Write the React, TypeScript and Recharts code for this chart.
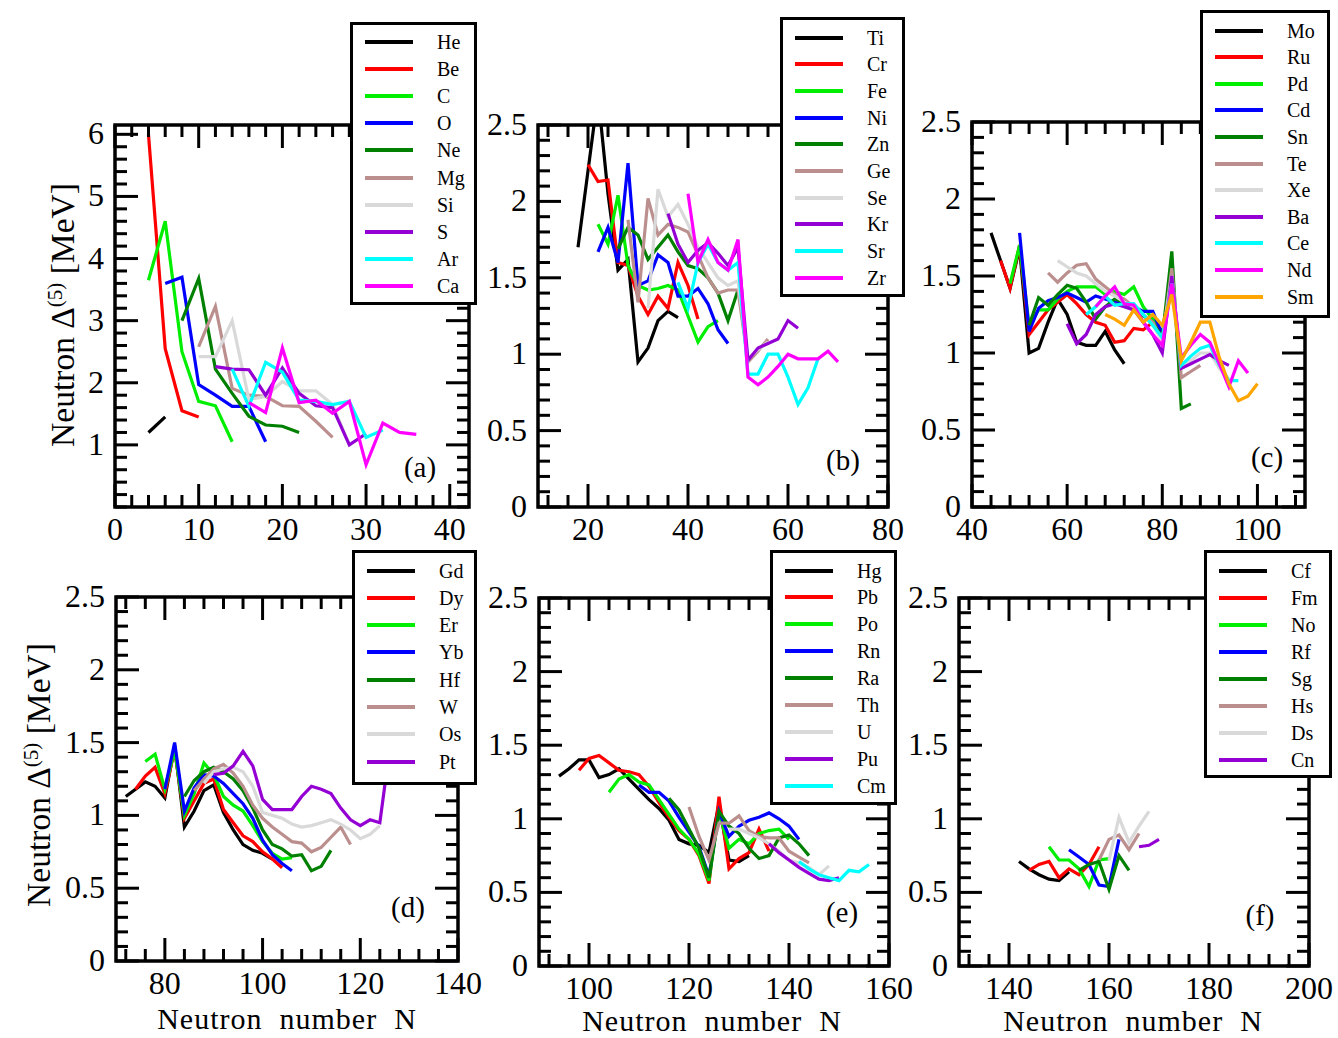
import React from 'react';
import { LineChart, Line, XAxis, YAxis, ReferenceArea } from 'recharts';

type Pt = [number, number];

const FONT = '"Liberation Serif", "Times New Roman", serif';

// colours used by the legend order of every panel
const C_BLACK = '#000000';
const C_RED = '#ff0000';
const C_LIME = '#00ee00';
const C_BLUE = '#0000ff';
const C_DGREEN = '#008000';
const C_ROSY = '#bc8f8f';
const C_GRAY = '#d9d9d9';
const C_PURPLE = '#9400d3';
const C_CYAN = '#00ffff';
const C_MAGENTA = '#ff00ff';
const C_ORANGE = '#ffa500';

// ---- panel (a) ----
const aHe: Pt[] = [[4, 1.2], [6, 1.45]];
const aBe: Pt[] = [[4, 6.0], [6, 2.55], [8, 1.55], [10, 1.45]];
const aC: Pt[] = [[4, 3.65], [6, 4.6], [8, 2.5], [10, 1.7], [12, 1.63], [14, 1.05]];
const aO: Pt[] = [[6, 3.6], [8, 3.7], [10, 1.97], [12, 1.8], [14, 1.62], [16, 1.62], [18, 1.05]];
const aNe: Pt[] = [[8, 3.0], [10, 3.68], [12, 2.22], [14, 1.83], [16, 1.46], [18, 1.32], [20, 1.3], [22, 1.2]];
const aMg: Pt[] = [[10, 2.58], [12, 3.23], [14, 1.91], [16, 1.8], [18, 1.78], [20, 1.63], [22, 1.62], [24, 1.38], [26, 1.12]];
const aSi: Pt[] = [[10, 2.42], [12, 2.42], [14, 3.0], [16, 1.73], [18, 1.78], [20, 2.02], [22, 1.87], [24, 1.87], [26, 1.65], [28, 1.0]];
const aS: Pt[] = [[12, 2.26], [14, 2.22], [16, 2.21], [18, 1.8], [20, 2.24], [22, 1.83], [24, 1.63], [26, 1.6], [28, 1.0], [30, 1.18]];
const aAr: Pt[] = [[14, 2.22], [16, 1.62], [18, 2.33], [20, 2.17], [22, 1.72], [24, 1.7], [26, 1.65], [28, 1.7], [30, 1.12], [32, 1.24]];
const aCa: Pt[] = [[16, 1.68], [18, 1.52], [20, 2.56], [22, 1.68], [24, 1.72], [26, 1.51], [28, 1.7], [30, 0.68], [32, 1.35], [34, 1.2], [36, 1.17]];

// ---- panel (b) ----
const bTi: Pt[] = [[18, 1.7], [20, 2.2], [22, 2.7], [24, 2.05], [26, 1.55], [28, 1.62], [30, 0.95], [32, 1.04], [34, 1.22], [36, 1.28], [38, 1.24]];
const bCr: Pt[] = [[20, 2.24], [22, 2.13], [24, 2.14], [26, 1.6], [28, 1.58], [30, 1.38], [32, 1.26], [34, 1.38], [36, 1.3], [38, 1.6], [40, 1.45], [42, 1.23]];
const bFe: Pt[] = [[22, 1.85], [24, 1.72], [26, 2.04], [28, 1.58], [30, 1.45], [32, 1.42], [34, 1.43], [36, 1.45], [38, 1.42], [40, 1.25], [42, 1.08], [44, 1.18], [46, 1.22]];
const bNi: Pt[] = [[22, 1.67], [24, 1.83], [26, 1.6], [28, 2.25], [30, 1.45], [32, 1.48], [34, 1.65], [36, 1.6], [38, 1.38], [40, 1.38], [42, 1.43], [44, 1.33], [46, 1.16], [48, 1.07]];
const bZn: Pt[] = [[26, 1.69], [28, 1.83], [30, 1.78], [32, 1.62], [34, 1.7], [36, 1.78], [38, 1.67], [40, 1.58], [42, 1.56], [44, 1.5], [46, 1.4], [48, 1.22], [50, 1.42]];
const bGe: Pt[] = [[28, 1.88], [30, 1.34], [32, 2.02], [34, 1.78], [36, 1.85], [38, 1.83], [40, 1.8], [42, 1.65], [44, 1.5], [46, 1.4], [48, 1.42], [50, 1.42], [52, 0.95], [54, 1.02], [56, 1.1]];
const bSe: Pt[] = [[32, 1.3], [34, 2.08], [36, 1.9], [38, 1.98], [40, 1.85], [42, 1.7], [44, 1.6], [46, 1.5], [48, 1.45], [50, 1.48], [52, 0.97], [54, 1.03], [56, 1.08]];
const bKr: Pt[] = [[36, 1.92], [38, 1.72], [40, 1.6], [42, 1.68], [44, 1.73], [46, 1.66], [48, 1.58], [50, 1.7], [52, 0.96], [54, 1.04], [56, 1.07], [58, 1.1], [60, 1.22], [62, 1.17]];
const bSr: Pt[] = [[38, 1.47], [40, 1.3], [42, 1.6], [44, 1.72], [46, 1.6], [48, 1.55], [50, 1.6], [52, 0.87], [54, 0.87], [56, 1.0], [58, 1.0], [60, 0.85], [62, 0.67], [64, 0.78], [66, 0.97]];
const bZr: Pt[] = [[40, 2.05], [42, 1.6], [44, 1.75], [46, 1.6], [48, 1.55], [50, 1.75], [52, 0.85], [54, 0.8], [56, 0.85], [58, 0.92], [60, 1.0], [62, 0.97], [64, 0.97], [66, 0.97], [68, 1.02], [70, 0.95]];

// ---- panel (c) ----
const cMo: Pt[] = [[44, 1.78], [46, 1.6], [48, 1.42], [50, 1.68], [52, 1.0], [54, 1.03], [56, 1.2], [58, 1.35], [60, 1.25], [62, 1.07], [64, 1.05], [66, 1.05], [68, 1.14], [70, 1.02], [72, 0.93]];
const cRu: Pt[] = [[46, 1.6], [48, 1.42], [50, 1.7], [52, 1.12], [54, 1.2], [56, 1.28], [58, 1.33], [60, 1.38], [62, 1.32], [64, 1.25], [66, 1.2], [68, 1.18], [70, 1.07], [72, 1.08], [74, 1.16], [76, 1.15], [78, 1.2]];
const cPd: Pt[] = [[48, 1.45], [50, 1.7], [52, 1.18], [54, 1.28], [56, 1.28], [58, 1.35], [60, 1.4], [62, 1.43], [64, 1.43], [66, 1.43], [68, 1.38], [70, 1.4], [72, 1.38], [74, 1.43], [76, 1.3], [78, 1.22], [80, 1.1]];
const cCd: Pt[] = [[50, 1.78], [52, 1.14], [54, 1.29], [56, 1.34], [58, 1.36], [60, 1.39], [62, 1.36], [64, 1.33], [66, 1.37], [68, 1.35], [70, 1.33], [72, 1.32], [74, 1.3], [76, 1.27], [78, 1.27], [80, 1.12], [82, 1.5]];
const cSn: Pt[] = [[52, 1.18], [54, 1.36], [56, 1.31], [58, 1.38], [60, 1.44], [62, 1.42], [64, 1.33], [66, 1.22], [68, 1.3], [70, 1.35], [72, 1.33], [74, 1.3], [76, 1.24], [78, 1.2], [80, 1.1], [82, 1.66], [84, 0.64], [86, 0.67]];
const cTe: Pt[] = [[56, 1.52], [58, 1.46], [60, 1.52], [62, 1.57], [64, 1.58], [66, 1.48], [68, 1.43], [70, 1.38], [72, 1.35], [74, 1.3], [76, 1.25], [78, 1.2], [80, 1.08], [82, 1.55], [84, 0.84], [86, 0.88], [88, 0.92]];
const cXe: Pt[] = [[58, 1.6], [60, 1.56], [62, 1.52], [64, 1.5], [66, 1.45], [68, 1.4], [70, 1.37], [72, 1.33], [74, 1.3], [76, 1.25], [78, 1.18], [80, 1.08], [82, 1.5], [84, 0.92], [86, 0.95], [88, 1.0], [90, 1.0], [92, 0.9], [94, 0.83]];
const cBa: Pt[] = [[60, 1.19], [62, 1.06], [64, 1.12], [66, 1.25], [68, 1.3], [70, 1.32], [72, 1.3], [74, 1.28], [76, 1.2], [78, 1.12], [80, 1.0], [82, 1.5], [84, 0.9], [86, 0.93], [88, 0.96], [90, 0.99], [92, 0.95], [94, 0.92]];
const cCe: Pt[] = [[64, 1.25], [66, 1.3], [68, 1.37], [70, 1.31], [72, 1.32], [74, 1.32], [76, 1.25], [78, 1.18], [80, 1.1], [82, 1.45], [84, 0.92], [86, 0.98], [88, 1.03], [90, 1.05], [92, 0.92], [94, 0.82], [96, 0.82]];
const cNd: Pt[] = [[66, 1.3], [68, 1.37], [70, 1.43], [72, 1.32], [74, 1.31], [76, 1.2], [78, 1.12], [80, 1.05], [82, 1.45], [84, 0.97], [86, 1.05], [88, 1.12], [90, 1.07], [92, 0.93], [94, 0.78], [96, 0.95], [98, 0.87]];
const cSm: Pt[] = [[68, 1.25], [70, 1.22], [72, 1.18], [74, 1.28], [76, 1.2], [78, 1.25], [80, 1.18], [82, 1.38], [84, 0.95], [86, 1.07], [88, 1.2], [90, 1.2], [92, 0.97], [94, 0.8], [96, 0.69], [98, 0.72], [100, 0.8]];

// ---- panel (d) ----
const dGd: Pt[] = [[72, 1.13], [74, 1.18], [76, 1.23], [78, 1.2], [80, 1.12], [82, 1.48], [84, 0.92], [86, 1.03], [88, 1.17], [90, 1.21], [92, 1.02], [94, 0.9], [96, 0.8], [98, 0.76], [100, 0.74], [102, 0.7]];
const dDy: Pt[] = [[74, 1.18], [76, 1.27], [78, 1.33], [80, 1.15], [82, 1.45], [84, 0.98], [86, 1.1], [88, 1.22], [90, 1.25], [92, 1.04], [94, 0.95], [96, 0.86], [98, 0.82], [100, 0.75], [102, 0.7], [104, 0.64]];
const dEr: Pt[] = [[76, 1.37], [78, 1.42], [80, 1.18], [82, 1.45], [84, 1.0], [86, 1.15], [88, 1.36], [90, 1.28], [92, 1.13], [94, 1.07], [96, 1.03], [98, 0.93], [100, 0.82], [102, 0.74], [104, 0.7], [106, 0.71]];
const dYb: Pt[] = [[80, 1.18], [82, 1.5], [84, 1.03], [86, 1.19], [88, 1.28], [90, 1.27], [92, 1.22], [94, 1.15], [96, 1.08], [98, 0.98], [100, 0.83], [102, 0.73], [104, 0.67], [106, 0.62]];
const dHf: Pt[] = [[84, 1.13], [86, 1.24], [88, 1.3], [90, 1.33], [92, 1.3], [94, 1.25], [96, 1.17], [98, 1.05], [100, 0.9], [102, 0.8], [104, 0.77], [106, 0.72], [108, 0.73], [110, 0.62], [112, 0.65], [114, 0.76]];
const dW: Pt[] = [[86, 1.17], [88, 1.25], [90, 1.32], [92, 1.35], [94, 1.29], [96, 1.2], [98, 1.07], [100, 0.98], [102, 0.92], [104, 0.87], [106, 0.82], [108, 0.81], [110, 0.75], [112, 0.78], [114, 0.85], [116, 0.92], [118, 0.8]];
const dOs: Pt[] = [[88, 1.22], [90, 1.3], [92, 1.32], [94, 1.33], [96, 1.3], [98, 1.2], [100, 1.02], [102, 1.0], [104, 0.98], [106, 0.94], [108, 0.92], [110, 0.93], [112, 0.95], [114, 0.97], [116, 0.94], [118, 0.9], [120, 0.84], [122, 0.87], [124, 0.93]];
const dPt: Pt[] = [[90, 1.28], [92, 1.29], [94, 1.34], [96, 1.44], [98, 1.34], [100, 1.11], [102, 1.04], [104, 1.04], [106, 1.04], [108, 1.13], [110, 1.2], [112, 1.18], [114, 1.15], [116, 1.05], [118, 0.97], [120, 0.93], [122, 0.97], [124, 0.95], [126, 1.45]];

// ---- panel (e) ----
const eHg: Pt[] = [[94, 1.29], [96, 1.34], [98, 1.4], [100, 1.4], [102, 1.28], [104, 1.3], [106, 1.34], [108, 1.27], [110, 1.2], [112, 1.13], [114, 1.07], [116, 0.99], [118, 0.86], [120, 0.83], [122, 0.82], [124, 0.77], [126, 1.1], [128, 0.72], [130, 0.71], [132, 0.75]];
const ePb: Pt[] = [[98, 1.33], [100, 1.41], [102, 1.43], [104, 1.38], [106, 1.33], [108, 1.32], [110, 1.3], [112, 1.22], [114, 1.11], [116, 1.01], [118, 0.92], [120, 0.86], [122, 0.75], [124, 0.56], [126, 1.15], [128, 0.66], [130, 0.73], [132, 0.77], [134, 0.93], [136, 0.78]];
const ePo: Pt[] = [[104, 1.18], [106, 1.27], [108, 1.3], [110, 1.25], [112, 1.23], [114, 1.13], [116, 1.03], [118, 0.93], [120, 0.86], [122, 0.76], [124, 0.58], [126, 1.05], [128, 0.8], [130, 0.86], [132, 0.83], [134, 0.9], [136, 0.92], [138, 0.93], [140, 0.86]];
const eRn: Pt[] = [[110, 1.23], [112, 1.18], [114, 1.18], [116, 1.12], [118, 1.01], [120, 0.91], [122, 0.81], [124, 0.61], [126, 1.05], [128, 0.88], [130, 0.95], [132, 0.99], [134, 1.01], [136, 1.04], [138, 1.0], [140, 0.95], [142, 0.86]];
const eRa: Pt[] = [[116, 1.14], [118, 1.06], [120, 0.93], [122, 0.8], [124, 0.6], [126, 1.05], [128, 0.95], [130, 0.9], [132, 0.8], [134, 0.73], [136, 0.75], [138, 0.87], [140, 0.89], [142, 0.83], [144, 0.75]];
const eTh: Pt[] = [[120, 1.08], [122, 0.88], [124, 0.72], [126, 0.97], [128, 0.97], [130, 1.02], [132, 0.92], [134, 0.88], [136, 0.87], [138, 0.87], [140, 0.78], [142, 0.74], [144, 0.7]];
const eU: Pt[] = [[128, 0.93], [130, 0.93], [132, 0.9], [134, 0.87], [136, 0.83], [138, 0.78], [140, 0.72], [142, 0.7], [144, 0.67], [146, 0.62], [148, 0.68]];
const ePu: Pt[] = [[136, 0.83], [138, 0.77], [140, 0.72], [142, 0.67], [144, 0.63], [146, 0.59], [148, 0.58], [150, 0.6]];
const eCm: Pt[] = [[142, 0.71], [144, 0.66], [146, 0.62], [148, 0.6], [150, 0.58], [152, 0.65], [154, 0.64], [156, 0.69]];

// ---- panel (f) ----
const fCf: Pt[] = [[142, 0.71], [144, 0.66], [146, 0.62], [148, 0.59], [150, 0.58], [152, 0.64]];
const fFm: Pt[] = [[144, 0.65], [146, 0.69], [148, 0.71], [150, 0.6], [152, 0.66], [154, 0.62], [156, 0.69], [158, 0.81]];
const fNo: Pt[] = [[148, 0.81], [150, 0.72], [152, 0.72], [154, 0.66], [156, 0.54], [158, 0.72], [160, 0.73]];
const fRf: Pt[] = [[152, 0.79], [154, 0.74], [156, 0.69], [158, 0.55], [160, 0.54], [162, 0.86]];
const fSg: Pt[] = [[154, 0.65], [156, 0.69], [158, 0.71], [160, 0.52], [162, 0.75], [164, 0.65]];
const fHs: Pt[] = [[158, 0.72], [160, 0.86], [162, 0.89], [164, 0.79], [166, 0.9]];
const fDs: Pt[] = [[160, 0.72], [162, 1.01], [164, 0.84], [166, 0.95], [168, 1.05]];
const fCn: Pt[] = [[166, 0.81], [168, 0.82], [170, 0.86]];

// tick labels
const aXMajor = [0, 10, 20, 30, 40];
const aYMajor = [1, 2, 3, 4, 5, 6];
const bXMajor = [20, 40, 60, 80];
const cXMajor = [40, 60, 80, 100];
const dXMajor = [80, 100, 120, 140];
const eXMajor = [100, 120, 140, 160];
const fXMajor = [140, 160, 180, 200];
const yMajor25 = [0, 0.5, 1, 1.5, 2, 2.5];

type Series = { name: string; color: string; data: Pt[] };
type Legend = { x: number; y: number; w: number; h: number; row0: number; step: number };
type PanelCfg = {
  fx: number; fy: number; fw: number; fh: number;
  xDomain: [number, number]; yDomain: [number, number];
  xMajor: number[]; xMinorStart: number; xMinorStep: number;
  yMajor: number[]; yMinorStep: number; yLabelMajor: number[];
  series: Series[]; legend: Legend; letter: string; letterX: number; letterY: number;
};

const S = (name: string, color: string, data: Pt[]): Series => ({ name, color, data });

const panels: PanelCfg[] = [
  {
    fx: 115, fy: 125, fw: 354, fh: 382, xDomain: [0, 42.3], yDomain: [0, 6.15],
    xMajor: aXMajor, xMinorStart: 0, xMinorStep: 2, yMajor: aYMajor, yMinorStep: 0.2, yLabelMajor: aYMajor,
    series: [S('He', C_BLACK, aHe), S('Be', C_RED, aBe), S('C', C_LIME, aC), S('O', C_BLUE, aO), S('Ne', C_DGREEN, aNe),
      S('Mg', C_ROSY, aMg), S('Si', C_GRAY, aSi), S('S', C_PURPLE, aS), S('Ar', C_CYAN, aAr), S('Ca', C_MAGENTA, aCa)],
    legend: { x: 350, y: 22, w: 127, h: 283, row0: 42, step: 27.2 }, letter: '(a)', letterX: 420, letterY: 467,
  },
  {
    fx: 538, fy: 125, fw: 350, fh: 382, xDomain: [10, 80], yDomain: [0, 2.5],
    xMajor: bXMajor, xMinorStart: 12, xMinorStep: 4, yMajor: yMajor25, yMinorStep: 0.1, yLabelMajor: yMajor25,
    series: [S('Ti', C_BLACK, bTi), S('Cr', C_RED, bCr), S('Fe', C_LIME, bFe), S('Ni', C_BLUE, bNi), S('Zn', C_DGREEN, bZn),
      S('Ge', C_ROSY, bGe), S('Se', C_GRAY, bSe), S('Kr', C_PURPLE, bKr), S('Sr', C_CYAN, bSr), S('Zr', C_MAGENTA, bZr)],
    legend: { x: 780, y: 17, w: 125, h: 280, row0: 38, step: 26.7 }, letter: '(b)', letterX: 843, letterY: 460,
  },
  {
    fx: 972, fy: 122, fw: 333, fh: 385, xDomain: [40, 110], yDomain: [0, 2.5],
    xMajor: cXMajor, xMinorStart: 40, xMinorStep: 4, yMajor: yMajor25, yMinorStep: 0.1, yLabelMajor: yMajor25,
    series: [S('Mo', C_BLACK, cMo), S('Ru', C_RED, cRu), S('Pd', C_LIME, cPd), S('Cd', C_BLUE, cCd), S('Sn', C_DGREEN, cSn),
      S('Te', C_ROSY, cTe), S('Xe', C_GRAY, cXe), S('Ba', C_PURPLE, cBa), S('Ce', C_CYAN, cCe), S('Nd', C_MAGENTA, cNd), S('Sm', C_ORANGE, cSm)],
    legend: { x: 1200, y: 10, w: 130, h: 308, row0: 31, step: 26.6 }, letter: '(c)', letterX: 1267, letterY: 457,
  },
  {
    fx: 116, fy: 597, fw: 342, fh: 364, xDomain: [70, 140], yDomain: [0, 2.5],
    xMajor: dXMajor, xMinorStart: 72, xMinorStep: 4, yMajor: yMajor25, yMinorStep: 0.1, yLabelMajor: yMajor25,
    series: [S('Gd', C_BLACK, dGd), S('Dy', C_RED, dDy), S('Er', C_LIME, dEr), S('Yb', C_BLUE, dYb), S('Hf', C_DGREEN, dHf),
      S('W', C_ROSY, dW), S('Os', C_GRAY, dOs), S('Pt', C_PURPLE, dPt)],
    legend: { x: 352, y: 550, w: 125, h: 235, row0: 571, step: 27.3 }, letter: '(d)', letterX: 408, letterY: 907,
  },
  {
    fx: 539, fy: 598, fw: 350, fh: 368, xDomain: [90, 160], yDomain: [0, 2.5],
    xMajor: eXMajor, xMinorStart: 92, xMinorStep: 4, yMajor: yMajor25, yMinorStep: 0.1, yLabelMajor: yMajor25,
    series: [S('Hg', C_BLACK, eHg), S('Pb', C_RED, ePb), S('Po', C_LIME, ePo), S('Rn', C_BLUE, eRn), S('Ra', C_DGREEN, eRa),
      S('Th', C_ROSY, eTh), S('U', C_GRAY, eU), S('Pu', C_PURPLE, ePu), S('Cm', C_CYAN, eCm)],
    legend: { x: 770, y: 550, w: 127, h: 255, row0: 571, step: 26.9 }, letter: '(e)', letterX: 842, letterY: 912,
  },
  {
    fx: 959, fy: 598, fw: 350, fh: 368, xDomain: [130, 200], yDomain: [0, 2.5],
    xMajor: fXMajor, xMinorStart: 132, xMinorStep: 4, yMajor: yMajor25, yMinorStep: 0.1, yLabelMajor: yMajor25,
    series: [S('Cf', C_BLACK, fCf), S('Fm', C_RED, fFm), S('No', C_LIME, fNo), S('Rf', C_BLUE, fRf), S('Sg', C_DGREEN, fSg),
      S('Hs', C_ROSY, fHs), S('Ds', C_GRAY, fDs), S('Cn', C_PURPLE, fCn)],
    legend: { x: 1204, y: 550, w: 128, h: 228, row0: 571, step: 27 }, letter: '(f)', letterX: 1260, letterY: 915,
  },
];

const PAD = 28;
const YW = 70;
const XH = 50;
const MAJ = 23;
const MIN = 12;
const TICK_FS = 32;

const steps = (start: number, end: number, step: number) => {
  const out: number[] = [];
  const n = Math.floor((end - start) / step + 1e-6);
  for (let i = 0; i <= n; i++) out.push(Math.round((start + i * step) * 1000) / 1000);
  return out;
};
const has = (arr: number[], v: number) => arr.some((m) => Math.abs(m - v) < 1e-6);

const Panel: React.FC<{ p: PanelCfg }> = ({ p }) => {
  const plotL = PAD + YW;
  const plotT = PAD;
  const plotR = plotL + p.fw;
  const plotB = PAD + p.fh;
  const W = plotR + PAD;
  const H = plotB + XH + PAD;

  const minorX = steps(p.xMinorStart, p.xDomain[1] - 0.5, p.xMinorStep);
  const xTicks = [...minorX, ...p.xMajor.filter((m) => !has(minorX, m))].sort((a, b) => a - b);
  const yTicks = steps(0, p.yDomain[1], p.yMinorStep);

  const xTick = (props: any) => {
    const { x, payload } = props;
    const v = payload.value;
    const major = has(p.xMajor, v);
    const len = major ? MAJ : MIN;
    return (
      <g>
        <line x1={x} x2={x} y1={plotB} y2={plotB - len} stroke="#000" strokeWidth={3} />
        <line x1={x} x2={x} y1={plotT} y2={plotT + len} stroke="#000" strokeWidth={3} />
        {major && (
          <text x={x} y={plotB + 33} textAnchor="middle" fontFamily={FONT} fontSize={TICK_FS} fill="#000">
            {v}
          </text>
        )}
      </g>
    );
  };

  const yTick = (props: any) => {
    const { y, payload } = props;
    const v = payload.value;
    const major = has(p.yMajor, v);
    const len = major ? MAJ : MIN;
    return (
      <g>
        <line x1={plotL} x2={plotL + len} y1={y} y2={y} stroke="#000" strokeWidth={3} />
        <line x1={plotR} x2={plotR - len} y1={y} y2={y} stroke="#000" strokeWidth={3} />
        {has(p.yLabelMajor, v) && (
          <text x={plotL - 11} y={y + 10} textAnchor="end" fontFamily={FONT} fontSize={TICK_FS} fill="#000">
            {v}
          </text>
        )}
      </g>
    );
  };

  return (
    <div style={{ position: 'absolute', left: p.fx - plotL, top: p.fy - plotT }}>
      <LineChart width={W} height={H} margin={{ top: PAD, right: PAD, bottom: PAD, left: PAD }}>
        <XAxis
          type="number" dataKey="n" domain={p.xDomain} allowDataOverflow ticks={xTicks} interval={0}
          tick={xTick} tickLine={false} axisLine={false} height={XH} tickSize={0} tickMargin={0}
        />
        <YAxis
          type="number" dataKey="v" domain={p.yDomain} allowDataOverflow ticks={yTicks} interval={0}
          tick={yTick} tickLine={false} axisLine={false} width={YW} tickSize={0} tickMargin={0}
        />
        {p.series.map((s) => (
          <Line
            key={s.name}
            data={s.data.map(([n, v]) => ({ n, v }))}
            dataKey="v"
            type="linear"
            stroke={s.color}
            strokeWidth={3.2}
            dot={false}
            isAnimationActive={false}
          />
        ))}
        <ReferenceArea
          x1={p.xDomain[0]} x2={p.xDomain[1]} y1={p.yDomain[0]} y2={p.yDomain[1]}
          fill="none" fillOpacity={0} stroke="#000" strokeWidth={3.5} strokeOpacity={1}
        />
      </LineChart>
    </div>
  );
};

const BORDER = 3.5;

const LegendBox: React.FC<{ p: PanelCfg }> = ({ p }) => {
  const L = p.legend;
  return (
    <div
      style={{
        position: 'absolute', left: L.x, top: L.y, width: L.w, height: L.h,
        border: `${BORDER}px solid #000`, background: '#fff', boxSizing: 'border-box',
      }}
    >
      {p.series.map((s, i) => {
        const cy = L.row0 + i * L.step - L.y - BORDER;
        return (
          <React.Fragment key={s.name}>
            <div style={{ position: 'absolute', left: 12, top: cy - 2, width: 48, height: 4, background: s.color }} />
            <div
              style={{
                position: 'absolute', left: 84, top: cy - 12, height: 24, lineHeight: '24px',
                fontFamily: FONT, fontSize: 20, color: '#000',
              }}
            >
              {s.name}
            </div>
          </React.Fragment>
        );
      })}
    </div>
  );
};

const Txt: React.FC<{ x: number; y: number; size: number; rotate?: boolean; lh?: number; ls?: number; children: React.ReactNode }> = ({ x, y, size, rotate, lh, ls, children }) => (
  <div
    style={{
      position: 'absolute', left: x, top: y, whiteSpace: 'pre', fontFamily: FONT, fontSize: size, color: '#000',
      transform: `translate(-50%, -50%)${rotate ? ' rotate(-90deg)' : ''}`, lineHeight: lh ?? 1, letterSpacing: ls ?? 0,
    }}
  >
    {children}
  </div>
);

const YTitle: React.FC<{ x: number; y: number }> = ({ x, y }) => (
  <Txt x={x} y={y} size={33.5} rotate>
    Neutron Δ<sup style={{ fontSize: 21 }}>(5)</sup> [MeV]
  </Txt>
);

const XTITLE = 'Neutron  number  N';

export default function App() {
  return (
    <div style={{ position: 'absolute', left: 0, top: 0, width: 1338, height: 1038, background: '#fff', overflow: 'hidden' }}>
      {panels.map((p) => (
        <Panel key={p.letter} p={p} />
      ))}
      {panels.map((p) => (
        <LegendBox key={'l' + p.letter} p={p} />
      ))}
      {panels.map((p) => (
        <Txt key={'t' + p.letter} x={p.letterX} y={p.letterY} size={29}>
          {p.letter}
        </Txt>
      ))}
      <YTitle x={62} y={315} />
      <YTitle x={38} y={775} />
      <Txt x={287} y={1019} size={30} lh={0.8} ls={1}>{XTITLE}</Txt>
      <Txt x={712} y={1021} size={30} lh={0.8} ls={1}>{XTITLE}</Txt>
      <Txt x={1133} y={1021} size={30} lh={0.8} ls={1}>{XTITLE}</Txt>
    </div>
  );
}
